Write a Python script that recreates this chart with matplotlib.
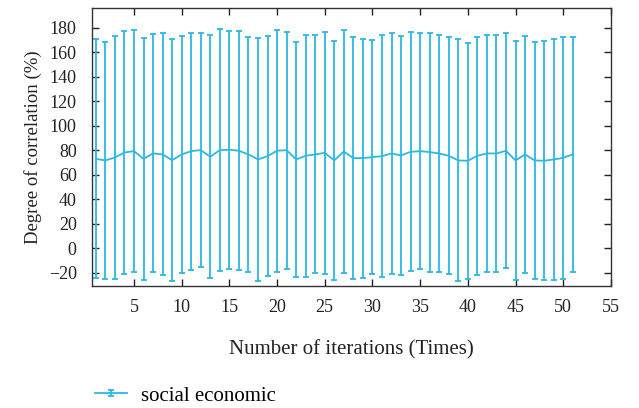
import matplotlib
matplotlib.use("Agg")
import matplotlib.pyplot as plt
from matplotlib.container import ErrorbarContainer
from matplotlib.legend_handler import HandlerErrorbar
import numpy as np

plt.rcParams['font.family'] = ['Liberation Serif', 'DejaVu Serif']

iterations = list(range(1, 52))
mean_corr = [72.9, 71.6, 74.0, 78.1, 79.2, 72.9, 77.3, 76.5, 71.8, 76.5,
             79.2, 80.0, 74.6, 80.0, 80.3, 79.5, 76.5, 72.4, 75.1, 79.5,
             80.0, 72.4, 75.4, 76.5, 77.8, 71.6, 78.9, 73.5, 73.5, 74.3,
             75.1, 77.3, 75.7, 78.6, 79.2, 78.4, 77.3, 75.4, 71.6, 71.3,
             75.4, 77.3, 77.3, 79.5, 71.6, 76.5, 71.6, 71.3, 72.4, 73.7,
             76.5]
err_corr = [97.7, 96.8, 98.9, 98.9, 98.9, 99.0, 97.2, 98.8, 98.9, 97.0,
            96.8, 95.7, 99.1, 98.6, 97.0, 97.7, 96.1, 99.0, 98.0, 98.9,
            96.9, 95.8, 98.8, 97.2, 98.9, 97.7, 98.9, 98.8, 97.7, 95.6,
            98.7, 98.6, 97.7, 97.7, 96.7, 97.7, 96.9, 96.7, 98.8, 96.6,
            97.0, 96.9, 96.8, 95.8, 97.7, 96.8, 96.6, 97.6, 98.8, 98.6,
            95.9]
x_ticks = [5, 10, 15, 20, 25, 30, 35, 40, 45, 50, 55]
y_ticks = [-20, 0, 20, 40, 60, 80, 100, 120, 140, 160, 180]

color = '#2DB8E2'

fig = plt.figure(figsize=(6.39, 4.08), dpi=100)
ax = fig.add_axes([0.144, 0.299, 0.812, 0.681])

ax.errorbar(iterations, mean_corr, yerr=err_corr, color=color, lw=1.3,
            elinewidth=1.3, capsize=2, capthick=1.3, label='social economic')

ax.set_xlim(0.6, 55)
ax.set_ylim(-31, 196)
ax.set_xticks(x_ticks)
ax.set_yticks(y_ticks)
ax.tick_params(direction='in', top=True, right=True, length=5, width=1,
               labelsize=13, colors='#222222')
ax.tick_params(axis='y', pad=11)
ax.tick_params(axis='x', pad=9)
for s in ax.spines.values():
    s.set_color('#333333')
    s.set_linewidth(1.0)

ax.set_xlabel('Number of iterations (Times)', fontsize=15, labelpad=18, color='#222222')
ax.set_ylabel('Degree of correlation (%)', fontsize=13.5, labelpad=5, color='#222222')

handles, labels = ax.get_legend_handles_labels()
fig.legend(handles, labels, loc='lower left', bbox_to_anchor=(0.12, -0.04),
           frameon=False, fontsize=15, handlelength=1.5, handletextpad=0.7,
           handler_map={ErrorbarContainer: HandlerErrorbar(yerr_size=0.15)})

fig.savefig('out.png', dpi=100)
